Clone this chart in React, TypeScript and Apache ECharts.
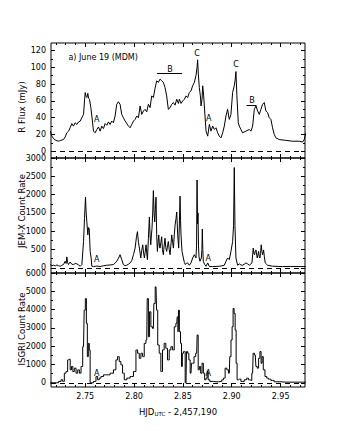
import React, { useEffect, useRef } from "react";
import * as echarts from "echarts";

const FONT = "DejaVu Sans";
const X_MIN = 2.715;
const X_MAX = 2.975;

const xMajor = [2.75, 2.8, 2.85, 2.9, 2.95];
const xMinor = [2.72, 2.73, 2.74, 2.76, 2.77, 2.78, 2.79, 2.81, 2.82, 2.83, 2.84, 2.86, 2.87, 2.88, 2.89, 2.91, 2.92, 2.93, 2.94, 2.96, 2.97];

const rMajor = [0, 20, 40, 60, 80, 100, 120];
const rMinor = [10, 30, 50, 70, 90, 110];
const jMajor = [0, 500, 1000, 1500, 2000, 2500, 3000];
const jMinor = [250, 750, 1250, 1750, 2250, 2750];
const iMajor = [0, 1000, 2000, 3000, 4000, 5000, 6000];
const iMinor = [500, 1500, 2500, 3500, 4500, 5500];

// R-band flux (mJy), MDM
const rFlux: [number, number][] = [
  [2.7142, 24], [2.716, 18], [2.7176, 15], [2.72, 13], [2.7227, 12], [2.725, 13], [2.7278, 14], [2.7295, 17],
  [2.7312, 22], [2.733, 24], [2.7346, 28], [2.7363, 33], [2.738, 30], [2.7397, 34], [2.7415, 32], [2.7432, 35],
  [2.7449, 36], [2.7466, 40], [2.7483, 44], [2.7493, 60], [2.75, 70], [2.751, 65], [2.7517, 64], [2.7527, 69],
  [2.7535, 63], [2.7544, 62], [2.7558, 52], [2.7568, 42], [2.7585, 24], [2.7602, 22], [2.7619, 26], [2.7636, 29],
  [2.7653, 24], [2.767, 30], [2.7687, 27], [2.7704, 33], [2.7721, 31], [2.7738, 35], [2.7755, 32], [2.7772, 36],
  [2.7789, 34], [2.7806, 42], [2.7823, 56], [2.784, 59], [2.7857, 56], [2.7874, 44], [2.7891, 40], [2.7909, 36],
  [2.7926, 33], [2.7943, 30], [2.796, 28], [2.7977, 32], [2.7994, 36], [2.8011, 38], [2.8028, 42], [2.8045, 40],
  [2.8062, 54], [2.8079, 44], [2.8096, 48], [2.8113, 50], [2.813, 47], [2.8147, 56], [2.8164, 52], [2.8181, 66],
  [2.8198, 64], [2.8215, 75], [2.8232, 84], [2.8249, 82], [2.8266, 86], [2.8283, 84], [2.83, 82], [2.8317, 76],
  [2.8334, 66], [2.8351, 50], [2.8369, 52], [2.8386, 56], [2.8403, 58], [2.842, 55], [2.8437, 62], [2.8454, 57],
  [2.8464, 62], [2.8481, 57], [2.8498, 60], [2.8515, 62], [2.8532, 66], [2.8549, 64], [2.8566, 70], [2.8583, 72],
  [2.86, 78], [2.8617, 82], [2.8634, 90], [2.8645, 100], [2.8651, 109], [2.8658, 92], [2.8668, 76], [2.8679, 66],
  [2.8686, 54], [2.8696, 62], [2.8703, 78], [2.8713, 66], [2.8723, 48], [2.8737, 24], [2.8754, 18], [2.8771, 32],
  [2.8788, 24], [2.8805, 30], [2.8822, 26], [2.8839, 28], [2.8856, 22], [2.8873, 18], [2.889, 16], [2.8907, 22],
  [2.8924, 30], [2.8941, 42], [2.8958, 50], [2.8975, 38], [2.8992, 44], [2.9009, 70], [2.9026, 78], [2.9036, 86],
  [2.9043, 95], [2.9053, 66], [2.9067, 34], [2.9077, 30], [2.9094, 26], [2.9111, 22], [2.9145, 24], [2.918, 26],
  [2.9197, 24], [2.9214, 30], [2.9231, 50], [2.9248, 54], [2.9265, 48], [2.9282, 44], [2.9299, 50], [2.9316, 56],
  [2.9333, 58], [2.935, 48], [2.9367, 46], [2.9384, 40], [2.9401, 38], [2.9418, 28], [2.9435, 20], [2.9452, 16],
  [2.9486, 14], [2.9554, 13], [2.9622, 12], [2.9691, 12], [2.9725, 11], [2.9742, 14], [2.9759, 22],
];

// JEM-X count rate
const jemx: [number, number][] = [
  [2.7142, 90], [2.716, 60], [2.7176, 75], [2.7195, 55], [2.721, 80], [2.7227, 60], [2.7244, 45], [2.726, 70],
  [2.7278, 90], [2.7295, 180], [2.7305, 120], [2.7312, 300], [2.732, 150], [2.7329, 90], [2.7346, 160], [2.7363, 100],
  [2.738, 90], [2.7398, 120], [2.7415, 110], [2.7432, 80], [2.7449, 45], [2.7466, 90], [2.7483, 720], [2.7493, 1345],
  [2.7503, 1930], [2.751, 1500], [2.7517, 1255], [2.7527, 900], [2.7534, 1100], [2.7541, 1075], [2.7551, 450], [2.7561, 270],
  [2.7568, 45], [2.7585, 36], [2.762, 50], [2.7653, 36], [2.769, 60], [2.7721, 72], [2.7755, 80], [2.7789, 90],
  [2.7806, 130], [2.7823, 180], [2.784, 260], [2.7857, 360], [2.7874, 225], [2.7891, 90], [2.7908, 60], [2.7925, 72],
  [2.7943, 100], [2.796, 135], [2.7977, 200], [2.7994, 360], [2.8011, 540], [2.8025, 850], [2.8035, 990], [2.8045, 700],
  [2.8055, 540], [2.8069, 270], [2.8079, 480], [2.8089, 630], [2.8098, 400], [2.8106, 270], [2.8115, 450], [2.8123, 630],
  [2.813, 400], [2.8137, 225], [2.8147, 800], [2.8157, 1390], [2.8164, 900], [2.8171, 630], [2.8178, 900], [2.8184, 1075],
  [2.8191, 1500], [2.8198, 2110], [2.8205, 1500], [2.8212, 1255], [2.8218, 1600], [2.8225, 1930], [2.8232, 900], [2.8239, 450],
  [2.8246, 700], [2.8253, 900], [2.826, 600], [2.8266, 540], [2.8275, 700], [2.8283, 850], [2.8291, 500], [2.83, 360],
  [2.8308, 600], [2.8317, 810], [2.8325, 550], [2.8334, 450], [2.8343, 600], [2.8351, 720], [2.836, 500], [2.8369, 360],
  [2.8378, 650], [2.8386, 900], [2.8395, 700], [2.8403, 540], [2.8412, 900], [2.842, 1165], [2.843, 1350], [2.8437, 1525],
  [2.8447, 900], [2.8457, 540], [2.8464, 1200], [2.8471, 1960], [2.8476, 1300], [2.8481, 900], [2.8491, 450], [2.8505, 270],
  [2.8515, 150], [2.8525, 90], [2.8537, 130], [2.8549, 135], [2.8566, 72], [2.8583, 135], [2.86, 270], [2.8617, 360],
  [2.8634, 270], [2.864, 600], [2.8645, 2400], [2.865, 1200], [2.8655, 1500], [2.866, 600], [2.8665, 300], [2.8675, 180],
  [2.8689, 270], [2.8695, 500], [2.8699, 1060], [2.8704, 500], [2.8709, 180], [2.8723, 90], [2.8737, 45], [2.8754, 135],
  [2.8771, 36], [2.8805, 36], [2.884, 40], [2.8873, 45], [2.89, 55], [2.8924, 72], [2.8941, 180], [2.8958, 270],
  [2.8975, 225], [2.8992, 450], [2.9009, 720], [2.9019, 1165], [2.9026, 2740], [2.9033, 1165], [2.9043, 270], [2.906, 72],
  [2.9077, 110], [2.9094, 80], [2.9111, 72], [2.9128, 100], [2.9145, 135], [2.9162, 110], [2.918, 72], [2.9207, 135],
  [2.922, 540], [2.9227, 400], [2.9234, 360], [2.9241, 450], [2.9248, 490], [2.9261, 270], [2.9268, 350], [2.9275, 450],
  [2.9282, 300], [2.9289, 270], [2.9295, 400], [2.9302, 630], [2.9309, 450], [2.9316, 360], [2.9326, 490], [2.9334, 300],
  [2.9343, 135], [2.9367, 72], [2.9418, 45], [2.952, 36], [2.96, 40], [2.968, 36], [2.9759, 36],
];

// ISGRI count rate
const isgri: [number, number][] = [
  [2.7142, 0], [2.721, 0], [2.7244, 75], [2.7261, 165], [2.7278, 75], [2.7295, 525], [2.7312, 615], [2.7329, 1250],
  [2.734, 1285], [2.7353, 710], [2.7367, 890], [2.738, 615], [2.7397, 800], [2.7415, 525], [2.7432, 710], [2.7449, 525],
  [2.7466, 890], [2.7483, 1975], [2.7496, 3970], [2.7507, 4600], [2.7517, 3245], [2.7527, 1430], [2.7537, 2155], [2.7547, 1795],
  [2.7554, 0], [2.7568, 0], [2.7602, 75], [2.7619, 345], [2.7636, 165], [2.7653, 255], [2.767, 345], [2.7704, 435],
  [2.7738, 435], [2.7772, 525], [2.7806, 710], [2.7823, 1250], [2.784, 1430], [2.7857, 1160], [2.7874, 980], [2.7891, 525],
  [2.7909, 165], [2.7943, 255], [2.7977, 345], [2.8011, 615], [2.8028, 1795], [2.8045, 1615], [2.8062, 1340], [2.8079, 1615],
  [2.8096, 1430], [2.8113, 2155], [2.813, 2335], [2.814, 4600], [2.8154, 2515], [2.8164, 3880], [2.8181, 3060], [2.8198, 2970],
  [2.8208, 4330], [2.8225, 5240], [2.8236, 3970], [2.8249, 2065], [2.8266, 1615], [2.8283, 615], [2.83, 1795], [2.8317, 2155],
  [2.8334, 1885], [2.8351, 1250], [2.8369, 1795], [2.8386, 1975], [2.8403, 1795], [2.842, 3060], [2.8437, 3245], [2.8447, 3600],
  [2.8454, 2790], [2.8457, 3970], [2.8471, 2790], [2.8481, 2155], [2.8491, 890], [2.8498, 1615], [2.8515, 1705], [2.8532, 0],
  [2.8542, 1705], [2.8556, 1615], [2.8566, 1250], [2.8583, 525], [2.8594, 1070], [2.8607, 1070], [2.8621, 1430], [2.8641, 1615],
  [2.8651, 2610], [2.8662, 710], [2.8675, 890], [2.8689, 525], [2.8703, 1070], [2.8716, 525], [2.873, 165], [2.8743, 255],
  [2.8754, 615], [2.8764, 165], [2.8788, 75], [2.8839, 55], [2.889, 75], [2.8907, 165], [2.8924, 255], [2.8941, 800],
  [2.8958, 710], [2.8975, 525], [2.8986, 1430], [2.8999, 2335], [2.9009, 3060], [2.9019, 4060], [2.903, 3790], [2.904, 2880],
  [2.905, 1070], [2.906, 165], [2.9077, 200], [2.9111, 75], [2.9145, 165], [2.9162, 255], [2.918, 165], [2.9197, 130],
  [2.9214, 525], [2.9224, 1615], [2.9241, 1520], [2.9254, 890], [2.9268, 800], [2.9282, 1340], [2.9295, 1705], [2.9306, 1070],
  [2.9316, 1430], [2.933, 710], [2.935, 345], [2.9367, 255], [2.9384, 200], [2.9418, 130], [2.9452, 55], [2.9554, 35],
  [2.9759, 35],
];

// annotations: [text, x, y]
const annR: [string, number, number][] = [
  ["a) June 19 (MDM)", 2.7684, 112],
  ["A", 2.7619, 38],
  ["B", 2.8369, 98],
  ["C", 2.8645, 117],
  ["A", 2.8764, 39.5],
  ["C", 2.9043, 103],
  ["B", 2.9207, 60.5],
];
const barsR: [number, number, number][] = [
  [2.8236, 2.8491, 92.6],
  [2.9152, 2.9254, 54.5],
];
const annJ: [string, number, number][] = [
  ["A", 2.7619, 223],
  ["A", 2.876, 269],
];
const annI: [string, number, number][] = [
  ["A", 2.7619, 527],
  ["A", 2.876, 527],
];

const BLACK = "#000";

function xAxesFor(gi: number, labels: boolean): any[] {
  const base = {
    type: "value",
    gridIndex: gi,
    min: X_MIN,
    max: X_MAX,
    splitLine: { show: false },
    axisLine: { show: false, onZero: false },
  };
  const major = {
    show: true,
    inside: true,
    length: 4,
    customValues: xMajor,
    lineStyle: { color: BLACK, width: 1 },
  };
  const minor = {
    show: true,
    inside: true,
    length: 2,
    customValues: xMinor,
    lineStyle: { color: BLACK, width: 1 },
  };
  const bottomMajor: any = {
    ...base,
    position: "bottom",
    axisTick: major,
    axisLabel: {
      show: labels,
      customValues: xMajor,
      margin: 5,
      color: BLACK,
      fontFamily: FONT,
      fontSize: 8,
      formatter: (v: number) => v.toFixed(2),
    },
  };
  if (labels) {
    bottomMajor.name = "{n|HJD}{s|UTC}{n| - 2,457,190}";
    bottomMajor.nameLocation = "middle";
    bottomMajor.nameGap = 20;
    bottomMajor.nameTextStyle = {
      rich: {
        n: { fontFamily: FONT, fontSize: 8.5, color: BLACK },
        s: { fontFamily: FONT, fontSize: 5.5, color: BLACK, padding: [4, 0, 0, 0] },
      },
    };
  }
  return [
    bottomMajor,
    { ...base, position: "bottom", axisTick: minor, axisLabel: { show: false, customValues: xMinor } },
    { ...base, position: "top", axisTick: major, axisLabel: { show: false, customValues: xMajor } },
    { ...base, position: "top", axisTick: minor, axisLabel: { show: false, customValues: xMinor } },
  ];
}

function yAxesFor(gi: number, min: number, max: number, maj: number[], mnr: number[]): any[] {
  const base = {
    type: "value",
    gridIndex: gi,
    min,
    max,
    splitLine: { show: false },
    axisLine: { show: false, onZero: false },
  };
  const major = { show: true, inside: true, length: 4, customValues: maj, lineStyle: { color: BLACK, width: 1 } };
  const minor = { show: true, inside: true, length: 2, customValues: mnr, lineStyle: { color: BLACK, width: 1 } };
  return [
    {
      ...base,
      position: "left",
      axisTick: major,
      axisLabel: {
        show: true,
        customValues: maj,
        margin: 5,
        color: BLACK,
        fontFamily: FONT,
        fontSize: 8,
        formatter: (v: number) => String(Math.round(v)),
      },
    },
    { ...base, position: "left", axisTick: minor, axisLabel: { show: false, customValues: mnr } },
    { ...base, position: "right", axisTick: major, axisLabel: { show: false, customValues: maj } },
    { ...base, position: "right", axisTick: minor, axisLabel: { show: false, customValues: mnr } },
  ];
}

function annSeries(gi: number, ann: [string, number, number][]): any {
  return {
    type: "scatter",
    xAxisIndex: gi * 4,
    yAxisIndex: gi * 4,
    symbolSize: 0,
    silent: true,
    z: 5,
    itemStyle: { color: BLACK, opacity: 1 },
    label: {
      show: true,
      position: [0, 0],
      align: "center",
      verticalAlign: "middle",
      formatter: "{b}",
      color: BLACK,
      textBorderWidth: 0,
      fontFamily: FONT,
      fontSize: 8,
    },
    data: ann.map(([t, x, y]) => ({ name: t, value: [x, y] })),
  };
}

const zeroLine = {
  silent: true,
  symbol: "none",
  label: { show: false },
  lineStyle: { color: BLACK, type: [5, 4], width: 1 },
  data: [{ yAxis: 0 }],
};

export default function App() {
  const ref = useRef<HTMLDivElement>(null);
  useEffect(() => {
    if (!ref.current) return;
    const chart = echarts.init(ref.current, undefined, { renderer: "svg" });
    const gridBase = { left: 51, width: 254, show: true, borderColor: BLACK, borderWidth: 1, backgroundColor: "transparent" };
    const option: any = {
      animation: false,
      backgroundColor: "#fff",
      textStyle: { fontFamily: FONT },
      grid: [
        { ...gridBase, top: 43, height: 115 },
        { ...gridBase, top: 158, height: 115 },
        { ...gridBase, top: 273, height: 114 },
      ],
      xAxis: [...xAxesFor(0, false), ...xAxesFor(1, false), ...xAxesFor(2, true)],
      yAxis: [
        ...yAxesFor(0, -8, 129, rMajor, rMinor),
        ...yAxesFor(1, -140, 3000, jMajor, jMinor),
        ...yAxesFor(2, -230, 6000, iMajor, iMinor),
      ],
      graphic: [
        { type: "text", x: 22, y: 107, rotation: Math.PI / 2, style: { text: "R Flux (mJy)", fill: BLACK, font: `8.5px "${FONT}"`, textAlign: "center", textVerticalAlign: "middle" } },
        { type: "text", x: 22, y: 211, rotation: Math.PI / 2, style: { text: "JEM-X Count Rate", fill: BLACK, font: `8.5px "${FONT}"`, textAlign: "center", textVerticalAlign: "middle" } },
        { type: "text", x: 22, y: 329, rotation: Math.PI / 2, style: { text: "ISGRI Count Rate", fill: BLACK, font: `8.5px "${FONT}"`, textAlign: "center", textVerticalAlign: "middle" } },
      ],
      series: [
        {
          type: "line",
          xAxisIndex: 0,
          yAxisIndex: 0,
          data: rFlux,
          showSymbol: false,
          lineStyle: { color: BLACK, width: 1 },
          markLine: {
            ...zeroLine,
            data: [
              { yAxis: 0 },
              ...barsR.map(([x0, x1, y]) => [
                { coord: [x0, y], lineStyle: { type: "solid", color: BLACK, width: 1 } },
                { coord: [x1, y] },
              ]),
            ],
          },
        },
        {
          type: "line",
          xAxisIndex: 4,
          yAxisIndex: 4,
          data: jemx,
          showSymbol: false,
          lineStyle: { color: BLACK, width: 1 },
          markLine: zeroLine,
        },
        {
          type: "line",
          xAxisIndex: 8,
          yAxisIndex: 8,
          data: isgri,
          step: "middle",
          showSymbol: false,
          lineStyle: { color: BLACK, width: 1 },
          markLine: zeroLine,
        },
        annSeries(0, annR),
        annSeries(1, annJ),
        annSeries(2, annI),
      ],
    };
    chart.setOption(option);
    return () => chart.dispose();
  }, []);
  return (
    <div
      ref={ref}
      style={{ position: "fixed", left: 0, top: 0, width: 339, height: 431, background: "#fff" }}
    />
  );
}
